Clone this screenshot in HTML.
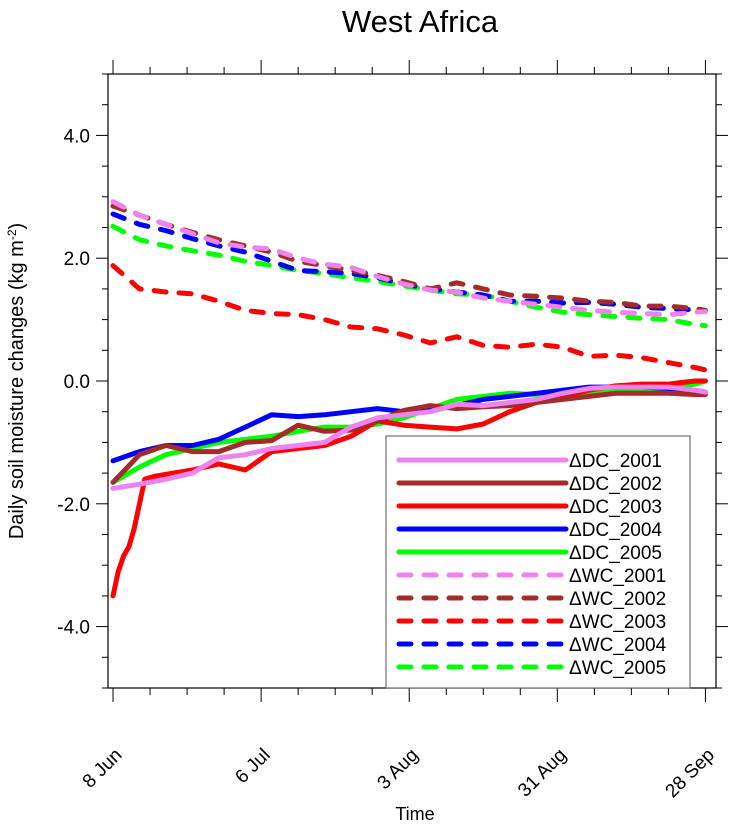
<!DOCTYPE html>
<html><head><meta charset="utf-8"><style>
body{margin:0;background:#fff;}
svg text{font-family:"Liberation Sans",sans-serif;fill:#000;}
</style></head><body>
<svg id="c" width="745" height="828" xmlns="http://www.w3.org/2000/svg">
<text x="420" y="32" font-size="31" text-anchor="middle">West Africa</text>
<text x="0" y="0" font-size="20" text-anchor="middle" transform="translate(23,381) rotate(-90)">Daily soil moisture changes (kg m<tspan font-size="12" dy="-7">-2</tspan><tspan dy="7">)</tspan></text>
<text x="415" y="820" font-size="18" text-anchor="middle">Time</text>
<g id="axes"></g>
<g id="series"></g>
<rect x="108" y="74" width="608" height="614" fill="none" stroke="#000" stroke-width="1.2"/>
<g id="legend"></g>
</svg>
<script>
const days=[0,5,10,15,20,25,30,35,40,45,50,55,60,65,70,75,80,85,90,95,100,105,110,112];
const dc2003Days=[0,1,2,3,4,5,6,8,10,15,20,25,30,35,40,45,50,55,60,65,70,75,80,85,90,95,100,105,110,112];
const dc2001=[-1.75,-1.68,-1.6,-1.5,-1.25,-1.2,-1.1,-1.05,-1.0,-0.75,-0.6,-0.55,-0.5,-0.38,-0.4,-0.35,-0.3,-0.2,-0.12,-0.1,-0.1,-0.1,-0.15,-0.18];
const dc2002=[-1.65,-1.2,-1.05,-1.15,-1.15,-1.0,-0.97,-0.72,-0.82,-0.8,-0.65,-0.48,-0.4,-0.45,-0.42,-0.4,-0.35,-0.3,-0.25,-0.2,-0.2,-0.2,-0.22,-0.22];
const dc2003=[-3.5,-3.1,-2.85,-2.7,-2.4,-2.0,-1.6,-1.55,-1.52,-1.45,-1.35,-1.45,-1.15,-1.1,-1.05,-0.9,-0.65,-0.72,-0.75,-0.78,-0.7,-0.5,-0.35,-0.25,-0.15,-0.08,-0.05,-0.05,0.0,0.0];
const dc2004=[-1.3,-1.15,-1.05,-1.05,-0.95,-0.75,-0.55,-0.58,-0.55,-0.5,-0.45,-0.5,-0.48,-0.4,-0.3,-0.25,-0.2,-0.15,-0.1,-0.1,-0.1,-0.12,-0.15,-0.18];
const dc2005=[-1.65,-1.4,-1.2,-1.1,-1.0,-0.95,-0.9,-0.82,-0.75,-0.75,-0.7,-0.6,-0.45,-0.3,-0.25,-0.2,-0.22,-0.2,-0.2,-0.15,-0.15,-0.15,-0.05,0.0];
const wc2001=[2.92,2.7,2.55,2.4,2.25,2.18,2.15,2.0,1.9,1.85,1.7,1.58,1.48,1.45,1.35,1.3,1.25,1.2,1.15,1.12,1.1,1.08,1.12,1.13];
const wc2002=[2.85,2.7,2.55,2.42,2.3,2.2,2.1,1.95,1.88,1.8,1.72,1.62,1.5,1.6,1.5,1.4,1.38,1.35,1.3,1.28,1.22,1.22,1.18,1.15];
const wc2003=[1.88,1.5,1.45,1.42,1.3,1.15,1.1,1.08,1.0,0.88,0.85,0.75,0.62,0.72,0.58,0.55,0.6,0.55,0.4,0.42,0.38,0.3,0.22,0.18];
const wc2004=[2.72,2.55,2.45,2.32,2.2,2.1,1.95,1.8,1.78,1.75,1.68,1.58,1.5,1.45,1.4,1.3,1.3,1.27,1.28,1.25,1.2,1.18,1.16,1.15];
const wc2005=[2.52,2.3,2.2,2.12,2.05,1.95,1.88,1.8,1.75,1.68,1.62,1.55,1.48,1.42,1.4,1.3,1.2,1.12,1.08,1.05,1.02,1.0,0.92,0.9];
const yTicks=[-4,-2,0,2,4];
const yTickLabels=["-4.0","-2.0","0.0","2.0","4.0"];
const xTicks=[0,28,56,84,112];
const xTickLabels=["8 Jun","6 Jul","3 Aug","31 Aug","28 Sep"];

const NS="http://www.w3.org/2000/svg";
const X0=108,X1=716,Y0=74,Y1=688,DMIN=-0.95,DMAX=114,VMIN=-5,VMAX=5;
function xs(d){return X0+(d-DMIN)/(DMAX-DMIN)*(X1-X0);}
function ys(v){return Y1-(v-VMIN)/(VMAX-VMIN)*(Y1-Y0);}
function mk(t,a,p){const e=document.createElementNS(NS,t);for(const k in a)e.setAttribute(k,a[k]);p.appendChild(e);return e;}
const ax=document.getElementById('axes');
for(let v=-5;v<=5.001;v+=0.5){
  const maj=Math.abs(v-Math.round(v/2)*2)<1e-6 && Math.abs(v)<5;
  const L=maj?12:6;
  let t=mk('line',{x1:X0-L,x2:X0,y1:ys(v),y2:ys(v),stroke:'#000','stroke-width':1},ax);
  
  
  t=mk('line',{x1:X1,x2:X1+L,y1:ys(v),y2:ys(v),stroke:'#000','stroke-width':1},ax);
  
  
}
yTicks.forEach((v,i)=>{
  const t=mk('text',{x:X0-18,y:ys(v)+7,'font-size':19,'text-anchor':'end'},ax);
  t.textContent=yTickLabels[i];
  
  
});
for(let d=0;d<=112;d+=7){
  const maj=d%28===0;const L=maj?14:7;
  let t=mk('line',{x1:xs(d),x2:xs(d),y1:Y1,y2:Y1+L,stroke:'#000','stroke-width':1},ax);
  
  
  t=mk('line',{x1:xs(d),x2:xs(d),y1:Y0-L,y2:Y0,stroke:'#000','stroke-width':1},ax);
  
  
}
xTicks.forEach((d,i)=>{
  const x=xs(d)+10,y=Y1+68;
  const t=mk('text',{x:x,y:y,'font-size':19,'text-anchor':'end',transform:`rotate(-45 ${x} ${y})`},ax);
  t.textContent=xTickLabels[i];
  
  
});
const series=[
 ['dc-2001',days,dc2001,'#ee82ee',false,'ΔDC_2001'],
 ['dc-2002',days,dc2002,'#a52a2a',false,'ΔDC_2002'],
 ['dc-2003',dc2003Days,dc2003,'#ff0000',false,'ΔDC_2003'],
 ['dc-2004',days,dc2004,'#0000ff',false,'ΔDC_2004'],
 ['dc-2005',days,dc2005,'#00ff00',false,'ΔDC_2005'],
 ['wc-2001',days,wc2001,'#ee82ee',true,'ΔWC_2001'],
 ['wc-2002',days,wc2002,'#a52a2a',true,'ΔWC_2002'],
 ['wc-2003',days,wc2003,'#ff0000',true,'ΔWC_2003'],
 ['wc-2004',days,wc2004,'#0000ff',true,'ΔWC_2004'],
 ['wc-2005',days,wc2005,'#00ff00',true,'ΔWC_2005']];
const sg=document.getElementById('series');
[4,3,2,1,0,9,8,7,6,5].forEach(i=>{
  const s=series[i];
  const pts=s[1].map((d,j)=>xs(d).toFixed(1)+','+ys(s[2][j]).toFixed(1)).join(' ');
  const a={points:pts,fill:'none',stroke:s[3],'stroke-width':5,'stroke-linejoin':'round','stroke-linecap':'round'};
  if(s[4])a['stroke-dasharray']='12 13';
  const p=mk('polyline',a,sg);
  
  
});
const lg=document.getElementById('legend');
const box=mk('rect',{x:386,y:436,width:304,height:252,fill:'#fff',stroke:'#555','stroke-width':1},lg);


series.forEach((s,i)=>{
  const y=460+i*23;
  const a={x1:399,x2:566,y1:y,y2:y,stroke:s[3],'stroke-width':5,'stroke-linecap':'round'};
  if(s[4])a['stroke-dasharray']='12 13';
  const l=mk('line',a,lg);
  
  
  const t=mk('text',{x:569,y:y+7,'font-size':19},lg);
  t.textContent=s[5];
  
  
});
</script>
</body></html>
